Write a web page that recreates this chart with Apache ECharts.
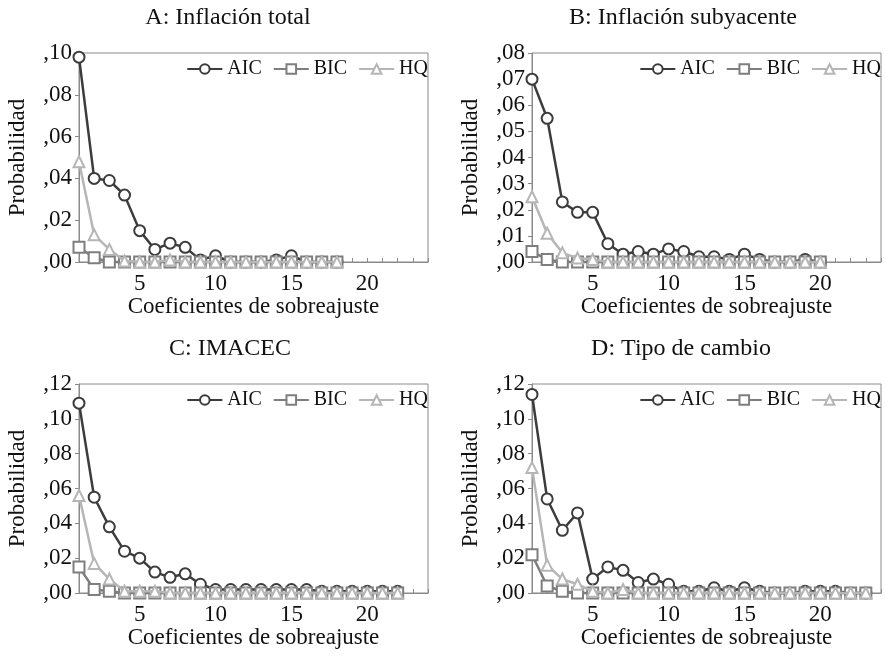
<!DOCTYPE html>
<html>
<head>
<meta charset="utf-8">
<script src="https://cdn.jsdelivr.net/npm/echarts@6/dist/echarts.min.js"></script>
<style>html,body{margin:0;padding:0;background:#fff}#c{width:885px;height:657px}</style>
</head>
<body>
<div id="c"></div>
<script>
const seriesNames = ['AIC', 'BIC', 'HQ'];
const panelTitles = ['A: Inflación total', 'B: Inflación subyacente', 'C: IMACEC', 'D: Tipo de cambio'];
const xName = 'Coeficientes de sobreajuste';
const yName = 'Probabilidad';

// Panel A (x = 1..18)
const aAIC = [0.098, 0.040, 0.039, 0.032, 0.015, 0.006, 0.009, 0.007, 0.001, 0.003, 0, 0, 0, 0.001, 0.003, 0, 0, 0];
const aBIC = [0.007, 0.002, 0, 0, 0, 0, 0, 0, 0, 0, 0, 0, 0, 0, 0, 0, 0, 0];
const aHQ  = [0.048, 0.013, 0.006, 0.0005, 0, 0, 0.001, 0, 0, 0, 0, 0, 0, 0, 0, 0, 0, 0];
// Panel B (x = 1..20)
const bAIC = [0.070, 0.055, 0.023, 0.019, 0.019, 0.007, 0.003, 0.004, 0.003, 0.005, 0.004, 0.002, 0.002, 0.001, 0.003, 0.001, 0, 0, 0.001, 0];
const bBIC = [0.004, 0.001, 0, 0, 0, 0, 0, 0, 0, 0, 0, 0, 0, 0, 0, 0, 0, 0, 0, 0];
const bHQ  = [0.025, 0.011, 0.0035, 0.0015, 0.001, 0, 0, 0, 0, 0, 0, 0, 0, 0, 0, 0, 0, 0, 0, 0];
// Panel C (x = 1..22)
const cAIC = [0.109, 0.055, 0.038, 0.024, 0.020, 0.012, 0.009, 0.011, 0.005, 0.002, 0.002, 0.002, 0.002, 0.002, 0.002, 0.002, 0.001, 0.001, 0.001, 0.001, 0.001, 0.001];
const cBIC = [0.015, 0.002, 0.001, 0, 0, 0, 0, 0, 0, 0, 0, 0, 0, 0, 0, 0, 0, 0, 0, 0, 0, 0];
const cHQ  = [0.056, 0.017, 0.008, 0.001, 0.001, 0.001, 0, 0, 0, 0, 0, 0, 0, 0, 0, 0, 0, 0, 0, 0, 0, 0];
// Panel D (x = 1..23)
const dAIC = [0.114, 0.054, 0.036, 0.046, 0.008, 0.015, 0.013, 0.006, 0.008, 0.005, 0.001, 0.001, 0.003, 0.001, 0.003, 0.001, 0, 0, 0.001, 0.001, 0.001, 0, 0];
const dBIC = [0.022, 0.004, 0.001, 0, 0, 0, 0, 0, 0, 0, 0, 0, 0, 0, 0, 0, 0, 0, 0, 0, 0, 0, 0];
const dHQ  = [0.072, 0.016, 0.008, 0.005, 0.001, 0, 0.002, 0, 0, 0, 0, 0, 0, 0, 0, 0, 0, 0, 0, 0, 0, 0, 0];

const yMax = [0.10, 0.08, 0.12, 0.12];
const yStep = [0.02, 0.01, 0.02, 0.02];
const xMin = 1, xMax = 24;

const panels = [[aAIC, aBIC, aHQ], [bAIC, bBIC, bHQ], [cAIC, cBIC, cHQ], [dAIC, dBIC, dHQ]];

const FONT = '"Liberation Serif", "DejaVu Serif", serif';
const colors = ['#3c3c3c', '#7e7e7e', '#b6b6b6'];
const symbols = ['emptyCircle', 'emptyRect', 'emptyTriangle'];
const grids = [
  {left: 79, top: 53, width: 349, height: 209},
  {left: 532, top: 53, width: 349, height: 209},
  {left: 79, top: 384, width: 349, height: 209},
  {left: 532, top: 384, width: 349, height: 209}
];
const titlePos = [[228, 18], [683, 18], [230, 349], [681, 349]];

function fmtY(v) {
  const n = Math.round(v * 100);
  return ',' + (n < 10 ? '0' + n : '' + n);
}

const option = {
  animation: false,
  textStyle: {fontFamily: FONT},
  grid: grids.map(g => Object.assign({show: true, borderColor: '#8a8a8a', borderWidth: 1, backgroundColor: 'transparent'}, g)),
  xAxis: grids.map((g, i) => ({
    type: 'value', gridIndex: i, min: xMin, max: xMax, interval: 1,
    name: xName, nameLocation: 'middle', nameGap: 33,
    nameTextStyle: {fontFamily: FONT, fontSize: 23, color: '#111'},
    axisLine: {show: true, lineStyle: {color: '#8a8a8a', width: 1}},
    axisTick: {show: true, inside: true, length: 4, lineStyle: {color: '#8a8a8a'}},
    axisLabel: {fontFamily: FONT, fontSize: 23, color: '#111', margin: 10,
      formatter: v => (v % 5 === 0 ? String(v) : '')},
    splitLine: {show: false}
  })),
  yAxis: grids.map((g, i) => ({
    type: 'value', gridIndex: i, min: 0, max: yMax[i], interval: yStep[i],
    name: yName, nameLocation: 'middle', nameGap: 50,
    nameTextStyle: {fontFamily: FONT, fontSize: 23, color: '#111'},
    axisLine: {show: true, lineStyle: {color: '#8a8a8a', width: 1}},
    axisTick: {show: true, inside: false, length: 4, lineStyle: {color: '#8a8a8a'}},
    axisLabel: {fontFamily: FONT, fontSize: 23, color: '#111', margin: 7, formatter: fmtY},
    splitLine: {show: false}
  })),
  legend: grids.map((g, i) => ({
    data: seriesNames,
    right: 885 - (g.left + g.width),
    top: g.top + 6,
    itemWidth: 35, itemHeight: 12, itemGap: 11,
    textStyle: {fontFamily: FONT, fontSize: 20, color: '#111'},
    padding: 0,
    selectedMode: false
  })),
  graphic: panelTitles.map((t, i) => ({
    type: 'text', x: titlePos[i][0], y: titlePos[i][1],
    style: {text: t, fontFamily: FONT, fontSize: 24, fill: '#111', textAlign: 'center', textVerticalAlign: 'middle'}
  })),
  series: []
};

panels.forEach((p, i) => {
  p.forEach((arr, k) => {
    option.series.push({
      name: seriesNames[k], type: 'line', xAxisIndex: i, yAxisIndex: i,
      data: arr.map((v, j) => [j + 1, v]),
      symbol: symbols[k], symbolSize: 11,
      color: colors[k],
      lineStyle: {color: colors[k], width: 2.5},
      itemStyle: {color: colors[k], borderColor: colors[k], borderWidth: 1.5},
      z: 2 + k,
      clip: false
    });
  });
});

const chart = echarts.init(document.getElementById('c'), null, {renderer: 'canvas'});
chart.setOption(option);
</script>
</body>
</html>
